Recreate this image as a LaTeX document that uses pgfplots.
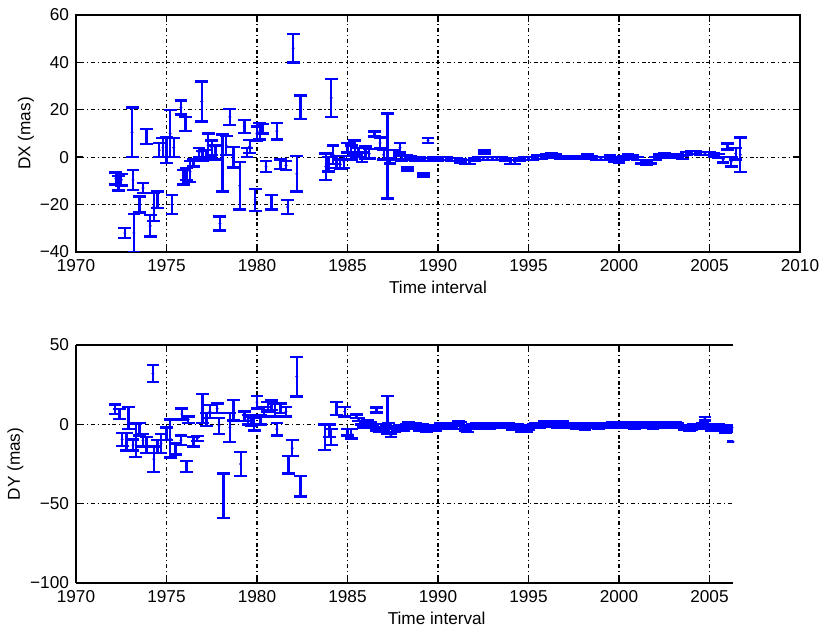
\documentclass[border=0pt]{standalone}
\usepackage{fontspec}
\setmainfont{Liberation Sans}
\usepackage{pgfplots}
\usepackage{pgfplotstable}
\pgfplotsset{compat=1.18}
\definecolor{mblue}{RGB}{0,0,255}

% DX: year, value, error (mas)
\pgfplotstableread{
x y e
1972.2 -9 2.5
1972.35 -11 3
1972.5 -9.5 2.5
1972.7 -32 2.2
1973.1 10.5 10.4
1973.15 -9.6 4.2
1973.2 -32 8
1973.5 -20 3.4
1973.7 -13 2
1973.9 8.7 3.2
1974.1 -29 4.5
1974.3 -21 6
1974.5 -18 3.5
1974.6 3 3
1974.8 4 4
1975.0 3 5.5
1975.2 10 10
1975.3 -20 4
1975.4 4 4
1975.8 21 3
1975.95 -8.5 3
1976.05 14 3
1976.1 -7 2.5
1976.3 -6 4.5
1976.5 -2.5 1.5
1976.8 2 2
1976.95 23.5 8.5
1977.0 0.5 2
1977.2 1 2
1977.3 5 5
1977.5 4 3
1977.7 2 3
1977.95 -28 3
1978.1 -2.5 12
1978.3 5 4
1978.5 17 3.3
1978.7 0 4.3
1979.05 -12 10
1979.3 13 2.8
1979.45 2 2
1979.6 4.5 2.7
1979.9 -18 4.6
1980.0 10 3
1980.15 11 3.5
1980.3 12 2
1980.5 -4 2.3
1980.8 -19 3
1981.1 11 3.5
1981.3 -3 2
1981.6 -3.5 2
1981.7 -21 3
1982.0 46 6
1982.2 -7 7.5
1982.4 21 5
1983.8 -4 5.5
1983.95 -3 3
1984.1 25 8
1984.2 1 4
1984.4 -2 2.5
1984.6 -3 2
1984.8 -2 2.5
1985.0 4 2
1985.2 2 3
1985.4 4 3
1985.6 2 2
1985.8 0 2
1986.0 2 2.5
1986.2 1.5 2
1986.5 9.8 1
1986.8 6 2.3
1987.0 1 2
1987.2 0.5 18
1987.35 -1.5 1.2
1987.6 1 2
1987.9 4 2
1988.0 -0.5 1.2
1988.25 0 0.8
1988.3 -5 0.6
1988.5 -0.5 0.8
1988.75 -1 0.7
1989.0 -0.5 0.7
1989.2 -7.5 0.6
1989.25 -1 0.7
1989.45 7 1
1989.5 -1 0.7
1989.75 -0.5 0.7
1990.0 -1 0.7
1990.25 -0.5 0.7
1990.5 -0.5 0.7
1990.75 -1 0.7
1991.0 -1 0.7
1991.25 -1.5 0.7
1991.5 -2 0.8
1991.75 -2 0.8
1992.0 -1 0.7
1992.25 -0.5 0.7
1992.5 -0.5 0.7
1992.55 2.2 0.6
1992.75 -0.5 0.7
1993.0 -0.5 0.7
1993.25 -0.5 0.7
1993.5 -0.5 0.7
1993.75 -1 0.7
1994.0 -2 0.8
1994.25 -2 0.8
1994.5 -1 0.7
1994.75 -0.5 0.7
1995.0 -0.5 0.7
1995.25 -0.5 0.7
1995.5 0 0.7
1995.75 0 0.7
1996.0 0.5 0.7
1996.25 1 0.7
1996.5 0.5 0.7
1996.75 0 0.6
1997.0 0 0.6
1997.25 0 0.6
1997.5 0 0.6
1997.75 0 0.6
1998.0 0 0.6
1998.25 0.5 0.6
1998.5 0 0.6
1998.75 -0.5 0.7
1999.0 -0.5 0.7
1999.25 -0.5 0.7
1999.5 0 0.7
1999.75 -1 0.8
2000.0 -1.5 0.8
2000.25 -0.5 0.8
2000.5 0.5 0.7
2000.75 0 0.7
2001.0 -0.5 0.7
2001.25 -2 0.7
2001.5 -2.5 0.7
2001.75 -2 0.7
2002.0 -0.5 0.7
2002.25 0.5 0.7
2002.5 1 0.7
2002.75 0.5 0.7
2003.0 0.5 0.7
2003.25 0.5 0.7
2003.5 0 0.7
2003.75 1.5 0.7
2004.0 2 0.7
2004.25 2 0.7
2004.5 1.5 0.7
2004.75 1.5 0.7
2005.0 1.5 0.7
2005.25 1 0.7
2005.5 0.5 0.8
2005.75 -1 1.2
2006.0 4.5 1.3
2006.2 -2 2
2006.45 1.5 2.5
2006.7 1 7.3
}\dxdata

% DY: year, value, error (mas)
\pgfplotstableread{
x y e
1972.15 9.5 3
1972.4 6.5 3
1972.55 -9.5 4
1972.8 -11 5.5
1972.9 4 7
1973.15 -13 3.5
1973.3 -10 10.5
1973.5 -3 4
1973.7 -10 4
1973.9 -13 5
1974.25 32 5.5
1974.3 -22 8
1974.5 -14 4
1974.7 -12 6
1975.0 -6 4
1975.2 -9 12
1975.5 -15.5 3.5
1975.8 -10 3
1975.85 6.5 3.5
1976.1 -26.5 3.5
1976.2 3 2
1976.5 -11 3
1976.7 -9 1.5
1977.0 10 9
1977.2 3 4
1977.4 8 4
1977.8 10 3
1977.9 -1 5
1978.15 -45 14
1978.5 -2 9
1978.7 9 6.5
1979.1 -25 7.5
1979.3 5 3
1979.5 3 3
1979.7 2 3
1979.85 0 4
1980.0 14 4
1980.2 3 3
1980.4 8 3
1980.6 11 3
1980.8 12 3
1981.0 9 4
1981.1 -3 4
1981.3 10 3
1981.6 8 3
1981.75 -25.5 5.5
1981.95 -15 5
1982.2 30 12.5
1982.4 -39 6.5
1983.75 -8 8
1984.0 -4 4
1984.1 -8 5
1984.4 10 4
1984.85 8 3
1985.0 -5 2
1985.2 -6 3
1985.5 5 1.2
1985.625 3 1
1985.75 1 1
1985.875 -1 1
1986.0 0 1
1986.125 1.5 1
1986.25 0.5 1
1986.375 -1.5 1
1986.5 -1 1.2
1986.6 9 1.5
1986.625 -3 1
1986.75 -4 1
1986.875 -2.5 1
1987.0 -3 1.2
1987.125 -1 1
1987.2 6 12
1987.25 0 1
1987.375 -2 1
1987.4 -7 1
1987.5 -2 1
1987.625 -4 1
1987.75 -3 1.2
1987.875 -1.5 1
1988.0 -2 1.2
1988.125 -3 1
1988.25 -1 1
1988.375 0.5 1
1988.5 -0.5 1.2
1988.625 -2 1
1988.75 0 1
1988.875 -1.5 1
1989.0 -3 1.2
1989.125 -1 1
1989.25 -2 1
1989.375 -4 1
1989.5 -3 1.2
1989.625 -1.5 1
1989.75 -2 1
1989.875 -3 1
1990.0 -1.5 1
1990.125 -0.5 1
1990.25 -1 1
1990.375 -2 1
1990.5 -1 1
1990.625 0 1
1990.75 -1 1
1990.875 -2 1
1991.0 0 1
1991.125 1 1
1991.25 0.5 1
1991.375 -2 1
1991.5 -3 1.2
1991.625 -4 1
1991.75 -2 1
1991.875 -1 1
1992.0 -1.5 1
1992.125 -0.5 1
1992.25 -1 1
1992.375 -2 1
1992.5 -1 1
1992.625 0 1
1992.75 -1 1
1992.875 -2 1
1993.0 -1.5 1
1993.125 -0.5 1
1993.25 -1 1
1993.375 0 1
1993.5 -0.5 1
1993.625 -1.5 1
1993.75 -0.5 1
1993.875 0 1
1994.0 -1.5 1
1994.125 -2.5 1
1994.25 -1.5 1
1994.375 -1 1
1994.5 -2 1.2
1994.625 -3.5 1
1994.75 -3 1.2
1994.875 -4 1
1995.0 -2.5 1.2
1995.125 -1.5 1
1995.25 -1 1
1995.375 0 1
1995.5 0 1
1995.625 -1 1
1995.75 0 1
1995.875 1 1
1996.0 0.5 1
1996.125 -0.5 1
1996.25 0.5 1
1996.375 1 1
1996.5 0 1
1996.625 -1 1
1996.75 0 1
1996.875 1 1
1997.0 0 1
1997.125 -1 1
1997.25 0 1
1997.375 -0.5 1
1997.5 -1 1
1997.625 -2 1
1997.75 -1.5 1
1997.875 -0.5 1
1998.0 -1.5 1
1998.125 -2.5 1
1998.25 -1 1
1998.375 0 1
1998.5 -0.5 1
1998.625 -1.5 1
1998.75 -1 1
1998.875 -2 1
1999.0 -1 1
1999.125 0 1
1999.25 -0.5 1
1999.375 -1.5 1
1999.5 -0.5 1
1999.625 0.5 1
1999.75 -0.5 1
1999.875 -1.5 1
2000.0 -0.5 1
2000.125 0.5 1
2000.25 0 1
2000.375 -1 1
2000.5 -0.5 1
2000.625 0.5 1
2000.75 -1 1
2000.875 -2 1
2001.0 -0.5 1
2001.125 0.5 1
2001.25 -0.5 1
2001.375 -1.5 1
2001.5 -0.5 1
2001.625 0.5 1
2001.75 -1 1
2001.875 -2 1
2002.0 -0.5 1
2002.125 0.5 1
2002.25 -0.5 1
2002.375 -1.5 1
2002.5 -0.5 1
2002.625 0.5 1
2002.75 -0.5 1
2002.875 -1.5 1
2003.0 -0.5 1
2003.125 0.5 1
2003.25 -0.5 1
2003.375 -1.5 1
2003.5 -1.5 1
2003.625 -2.5 1
2003.75 -2 1.2
2003.875 -3 1
2004.0 -2 1.2
2004.125 -1 1
2004.25 -1 1
2004.375 -2 1
2004.5 -1 1
2004.625 0 1
2004.75 3.5 1
2004.875 -1 1
2005.0 -2 1
2005.125 -3 1
2005.25 -2 1
2005.375 -1 1
2005.5 -1 1
2005.625 -3 1
2005.75 -3 1.2
2005.875 -4.5 1
2006.0 -3 1.5
2006.125 -1.5 1
2006.25 -2 1.2
2006.3 -11 0.3
}\dydata

\pgfplotsset{
  ebax/.style={
    scale only axis,
    anchor=south west,
    xmin=1970,
    grid=major,
    grid style={black, line width=0.6pt, dash pattern=on 0.6pt off 1.4pt on 2pt off 1.4pt},
    axis line style={black, line width=0.9pt},
    tick style={black, line width=0.7pt},
    tick align=inside,
    major tick length=3.5pt,
    ticklabel style={font=\fontsize{8.6}{10}\selectfont},
    label style={font=\fontsize{8.6}{10}\selectfont},
    xlabel={Time interval},
    xlabel style={yshift=2pt},
  },
  ebplot/.style={
    only marks, mark=*, mark size=0.5pt, mark options={mblue},
    error bars/.cd, y dir=both, y explicit,
    error bar style={line width=1.2pt, mblue},
    error mark options={rotate=90, line width=1.2pt, mblue, mark size=3.2pt},
  },
}

\begin{document}
\begin{tikzpicture}
\path[use as bounding box] (0,0) rectangle (410.5pt,315pt);

\begin{axis}[ebax,
    at={(38pt,189pt)}, width=362pt, height=118.5pt,
    xmax=2010, ymin=-40, ymax=60,
    xtick={1970,1975,...,2010},
    xticklabels={1970,1975,1980,1985,1990,1995,2000,2005,2010},
    ytick={-40,-20,0,20,40,60},
    yticklabels={−40,−20,0,20,40,60},
    ylabel={DX (mas)},
    ylabel style={yshift=-4pt},
]
\addplot[ebplot] table[x=x, y=y, y error=e] {\dxdata};
\end{axis}

\begin{axis}[ebax,
    at={(38pt,23.5pt)}, width=328.5pt, height=119pt,
    separate axis lines, axis x line*=box, axis y line*=left,
    xmax=2006.3, ymin=-100, ymax=50,
    xtick={1970,1975,...,2005},
    xticklabels={1970,1975,1980,1985,1990,1995,2000,2005},
    ytick={-100,-50,0,50},
    yticklabels={−100,−50,0,50},
    ylabel={DY (mas)},
    ylabel style={yshift=-3.5pt},
    xlabel style={at={(ticklabel cs:0.549)}},
]
\addplot[ebplot] table[x=x, y=y, y error=e] {\dydata};
\end{axis}
\end{tikzpicture}
\end{document}
